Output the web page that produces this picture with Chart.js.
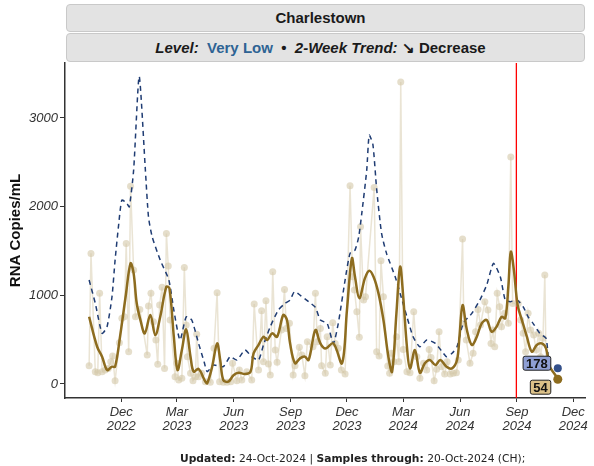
<!DOCTYPE html>
<html>
<head>
<meta charset="utf-8">
<script src="https://cdn.jsdelivr.net/npm/chart.js@4.4.1/dist/chart.umd.min.js"></script>
<style>
  html, body { margin: 0; padding: 0; background: #fff; }
  body { width: 594px; height: 466px; position: relative; overflow: hidden; font-family: 'Liberation Sans', Arial, sans-serif; }
  #plot { position: absolute; left: 0; top: 0; }
  .strip { position: absolute; left: 66px; width: 519px; background: #e3e3e3; border: 1px solid #c9c9c9; border-radius: 4px; box-sizing: border-box; text-align: center; font-weight: bold; font-size: 15px; color: #1a1a1a; padding-right: 10px; }
  #strip1 { top: 4px; height: 28px; line-height: 26px; }
  #strip2 { top: 33px; height: 29px; line-height: 27px; }
  #strip2 .lvl { color: #2e6394; }
  #footer { position: absolute; left: 180px; top: 452px; white-space: nowrap; font-family: 'DejaVu Sans', sans-serif; font-size: 10.7px; color: #222; }
</style>
</head>
<body>
<canvas id="plot" width="594" height="466"></canvas>
<div class="strip" id="strip1">Charlestown</div>
<div class="strip" id="strip2"><i>Level:</i>&nbsp; <span class="lvl">Very Low</span> &nbsp;&bull;&nbsp; <i>2-Week Trend:</i> &#8600; Decrease</div>
<div id="footer"><b>Updated:</b> 24-Oct-2024 | <b>Samples through:</b> 20-Oct-2024 (CH);</div>
<script>
// raw samples (RNA copies/mL)
const sampleDates = [
  '2022-10-10','2022-10-13','2022-10-20','2022-10-24','2022-10-27','2022-10-31','2022-11-05','2022-11-10','2022-11-14','2022-11-17',
  '2022-11-21','2022-11-28','2022-12-02','2022-12-06','2022-12-09','2022-12-13','2022-12-16','2022-12-21','2022-12-24','2022-12-31',
  '2023-01-12','2023-01-14','2023-01-18','2023-01-22','2023-01-26','2023-01-29','2023-02-01','2023-02-05','2023-02-09','2023-02-12',
  '2023-02-15','2023-02-18','2023-02-26','2023-03-01','2023-03-04','2023-03-09','2023-03-13','2023-03-16','2023-03-18','2023-03-23',
  '2023-03-27','2023-03-31','2023-04-02','2023-04-05','2023-04-10','2023-04-16','2023-04-24','2023-04-30','2023-05-05','2023-05-09',
  '2023-05-15','2023-05-21','2023-05-27','2023-05-30','2023-06-06','2023-06-10','2023-06-14','2023-06-22','2023-06-30','2023-07-04',
  '2023-07-11','2023-07-16','2023-07-19','2023-07-23','2023-07-27','2023-07-30','2023-08-03','2023-08-07','2023-08-10','2023-08-17',
  '2023-08-22','2023-08-25','2023-08-30','2023-09-05','2023-09-08','2023-09-15','2023-09-19','2023-09-24','2023-09-28','2023-10-07',
  '2023-10-11','2023-10-14','2023-10-19','2023-10-21','2023-10-27','2023-10-30','2023-11-04','2023-11-08','2023-11-12','2023-11-17',
  '2023-11-22','2023-11-28','2023-12-06','2023-12-10','2023-12-13','2023-12-17','2023-12-21','2023-12-23','2023-12-28','2023-12-31',
  '2024-01-14','2024-01-18','2024-01-22','2024-01-25','2024-01-29','2024-02-05','2024-02-08','2024-02-11','2024-02-15','2024-02-19',
  '2024-02-23','2024-02-26','2024-03-01','2024-03-07','2024-03-12','2024-03-18','2024-03-23','2024-03-28','2024-04-03','2024-04-08',
  '2024-04-12','2024-04-15','2024-04-20','2024-04-24','2024-04-28','2024-05-02','2024-05-07','2024-05-11','2024-05-16','2024-05-21',
  '2024-05-26','2024-05-29','2024-06-05','2024-06-07','2024-06-11','2024-06-17','2024-06-22','2024-06-26','2024-06-30','2024-07-04',
  '2024-07-11','2024-07-16','2024-07-21','2024-07-24','2024-07-27','2024-07-31','2024-08-04','2024-08-07','2024-08-12','2024-08-18',
  '2024-08-22','2024-08-25','2024-09-03','2024-09-07','2024-09-11','2024-09-15','2024-09-19','2024-09-23','2024-09-28','2024-10-02',
  '2024-10-06','2024-10-09','2024-10-13','2024-10-16','2024-10-18','2024-10-20'
];
const sampleValues = [
  206, 1473, 139, 127, 1022, 139, 158, 176, 251, 315,
  37, 466, 740, 758, 1585, 364, 2231, 1285, 758, 841,
  327, 879, 1022, 702, 496, 222, 890, 1090, 176, 1698,
  1330, 721, 83, 233, 45, 64, 1315, 665, 308, 120,
  37, 83, 560, 83, 120, 26, 19, 402, 1029, 26,
  19, 19, 26, 233, 37, 158, 45, 139, 45, 902,
  158, 826, 251, 939, 225, 101, 1266, 383, 244, 608,
  1067, 627, 684, 101, 206, 413, 327, 94, 477, 420,
  1022, 477, 627, 206, 120, 533, 214, 691, 458, 402,
  158, 113, 2235, 1209, 1059, 815, 526, 1773, 947, 984,
  2216, 364, 315, 1390, 984, 203, 120, 346, 251, 533,
  251, 3407, 390, 139, 127, 815, 308, 64, 233, 158,
  390, 300, 37, 165, 590, 195, 113, 251, 113, 120,
  127, 270, 1634, 684, 496, 233, 346, 590, 841, 665,
  928, 834, 458, 608, 420, 1022, 871, 646, 797, 684,
  2561, 909, 909, 721, 571, 364, 797, 608, 552, 383,
  571, 308, 515, 1228, 270, 195
];

// smoothed trend (solid gold)
const trendDates = [
  '2022-10-10','2022-10-23','2022-10-31','2022-11-08','2022-11-16','2022-11-21','2022-11-29','2022-12-08','2022-12-16','2022-12-21',
  '2022-12-26','2023-01-01','2023-01-08','2023-01-17','2023-01-25','2023-02-02','2023-02-12','2023-02-17','2023-02-24','2023-03-02',
  '2023-03-09','2023-03-16','2023-03-23','2023-03-28','2023-04-05','2023-04-16','2023-04-19','2023-04-27','2023-05-05','2023-05-10',
  '2023-05-15','2023-05-23','2023-06-01','2023-06-09','2023-06-19','2023-06-28','2023-07-03','2023-07-11','2023-07-19','2023-07-25',
  '2023-08-02','2023-08-10','2023-08-20','2023-08-26','2023-08-31','2023-09-08','2023-09-16','2023-09-24','2023-09-30','2023-10-11',
  '2023-10-19','2023-10-27','2023-11-09','2023-11-23','2023-12-01','2023-12-09','2023-12-14','2023-12-21','2023-12-30','2024-01-06',
  '2024-01-13','2024-01-21','2024-01-29','2024-02-06','2024-02-12','2024-02-19','2024-02-25','2024-03-01','2024-03-07','2024-03-12',
  '2024-03-20','2024-03-28','2024-04-05','2024-04-13','2024-04-22','2024-04-30','2024-05-10','2024-05-19','2024-05-27','2024-05-31',
  '2024-06-05','2024-06-12','2024-06-20','2024-06-28','2024-07-06','2024-07-14','2024-07-22','2024-07-30','2024-08-07','2024-08-13',
  '2024-08-18','2024-08-22','2024-08-27','2024-09-02','2024-09-09','2024-09-17','2024-09-25','2024-10-03','2024-10-11','2024-10-18',
  '2024-10-24','2024-11-02','2024-11-06'
];
const trendValues = [
  758, 420, 308, 158, 195, 195, 533, 984, 1360, 1247,
  910, 721, 571, 778, 552, 758, 1097, 1078, 533, 158,
  383, 616, 308, 139, 170, 26, 8, 195, 458, 270,
  45, 26, 101, 127, 113, 139, 346, 440, 533, 496,
  571, 533, 778, 721, 458, 233, 289, 308, 270, 608,
  458, 400, 458, 233, 834, 1417, 1209, 966, 1191, 1277,
  1209, 1022, 721, 308, 139, 797, 1322, 984, 420, 176,
  383, 127, 233, 270, 214, 270, 195, 176, 270, 533,
  890, 608, 440, 533, 684, 721, 590, 646, 758, 740,
  1097, 1491, 1285, 890, 721, 533, 364, 440, 458, 402,
  195, 101, 54
];

// comparison curve (dashed navy)
const compareDates = [
  '2022-10-10','2022-10-20','2022-10-31','2022-11-08','2022-11-16','2022-11-21','2022-11-27','2022-12-02','2022-12-10','2022-12-14',
  '2022-12-21','2022-12-30','2023-01-09','2023-01-14','2023-01-20','2023-02-02','2023-02-16','2023-02-24','2023-03-06','2023-03-16',
  '2023-03-25','2023-04-05','2023-04-14','2023-04-19','2023-04-29','2023-05-15','2023-05-26','2023-06-06','2023-06-19','2023-06-30',
  '2023-07-11','2023-07-19','2023-07-30','2023-08-12','2023-08-23','2023-08-31','2023-09-07','2023-09-16','2023-09-30','2023-10-11',
  '2023-10-19','2023-10-30','2023-11-09','2023-11-17','2023-11-28','2023-12-06','2023-12-14','2023-12-20','2023-12-25','2024-01-02',
  '2024-01-06','2024-01-12','2024-01-18','2024-01-26','2024-02-03','2024-02-17','2024-02-25','2024-03-07','2024-03-17','2024-03-28',
  '2024-04-08','2024-04-22','2024-05-05','2024-05-10','2024-05-19','2024-05-27','2024-06-06','2024-06-20','2024-07-03','2024-07-14',
  '2024-07-25','2024-08-05','2024-08-13','2024-08-21','2024-09-01','2024-09-11','2024-09-19','2024-09-27','2024-10-08','2024-10-18',
  '2024-10-22'
];
const compareValues = [
  1172, 909, 571, 646, 984, 1397, 1811, 2074, 2036, 1998,
  2412, 3470, 2412, 1886, 1660, 1397, 1172, 834, 496, 758,
  721, 458, 250, 139, 214, 195, 308, 270, 383, 308,
  270, 440, 646, 834, 909, 947, 1040, 1003, 928, 864,
  721, 684, 458, 684, 1172, 1473, 1510, 1660, 1924, 2412,
  2806, 2700, 2200, 1698, 1473, 1209, 1022, 758, 533, 420,
  496, 458, 346, 308, 346, 420, 684, 797, 947, 1116,
  1360, 1209, 947, 928, 947, 871, 758, 684, 571, 515,
  270
];

// latest values shown as tagged dots
const latestDate = '2024-11-06';
const latestCompare = 178;
const latestTrend = 54;
const markerDate = '2024-08-31';

const tickDates = ['2022-12-01','2023-03-01','2023-06-01','2023-09-01','2023-12-01','2024-03-01','2024-06-01','2024-09-01','2024-12-01'];
const tickLabels = [['Dec','2022'],['Mar','2023'],['Jun','2023'],['Sep','2023'],['Dec','2023'],['Mar','2024'],['Jun','2024'],['Sep','2024'],['Dec','2024']];
const yTicks = [0, 1000, 2000, 3000];

const FONT = "'Liberation Sans', Arial, sans-serif";
const toDay = s => Date.UTC(+s.slice(0, 4), +s.slice(5, 7) - 1, +s.slice(8, 10)) / 86400000;
const pts = (dates, vals) => dates.map((d, i) => ({ x: toDay(d), y: vals[i] }));

function tag(ctx, text, xRight, yc, fill) {
    ctx.font = 'bold 13px ' + FONT;
    const w = ctx.measureText(text).width + 6;
    const h = 14;
    const x0 = xRight - w;
    const y0 = yc - h / 2;
    ctx.beginPath();
    ctx.roundRect(x0, y0, w, h, 2);
    ctx.fillStyle = fill;
    ctx.fill();
    ctx.lineWidth = 1;
    ctx.strokeStyle = '#222';
    ctx.stroke();
    ctx.fillStyle = '#111';
    ctx.textAlign = 'center';
    ctx.textBaseline = 'middle';
    ctx.fillText(text, x0 + w / 2, yc + 1);
}

const overlay = {
    id: 'overlay',
    beforeDatasetsDraw(chart) {
        const { ctx, chartArea, scales } = chart;
        const rx = scales.x.getPixelForValue(toDay(markerDate));
        ctx.save();
        ctx.strokeStyle = '#ff0000';
        ctx.lineWidth = 1.3;
        ctx.beginPath();
        ctx.moveTo(rx, chartArea.top);
        ctx.lineTo(rx, chartArea.bottom);
        ctx.stroke();
        ctx.restore();
    },
    afterDatasetsDraw(chart) {
        const { ctx, scales } = chart;
        const px = scales.x.getPixelForValue(toDay(latestDate));
        ctx.save();
        tag(ctx, String(latestCompare), px - 7, scales.y.getPixelForValue(latestCompare) - 5, '#8f9fd4');
        tag(ctx, String(latestTrend), px - 7, scales.y.getPixelForValue(latestTrend) + 8, '#dcc188');
        ctx.restore();
    },
};

new Chart(document.getElementById('plot'), {
    type: 'line',
    data: {
        datasets: [
            {
                data: pts([latestDate], [latestCompare]),
                showLine: false,
                pointRadius: 4,
                pointBackgroundColor: '#34508a',
                pointBorderWidth: 0,
                order: 1,
            },
            {
                data: pts([latestDate], [latestTrend]),
                showLine: false,
                pointRadius: 4.5,
                pointBackgroundColor: '#8d6c1f',
                pointBorderWidth: 0,
                order: 1,
            },
            {
                data: pts(trendDates, trendValues),
                borderColor: '#8d6c1f',
                borderWidth: 2.5,
                pointRadius: 0,
                tension: 0.35,
                order: 2,
            },
            {
                data: pts(compareDates, compareValues),
                borderColor: '#1f3c73',
                borderWidth: 1.5,
                borderDash: [5, 4],
                pointRadius: 0,
                tension: 0.2,
                order: 3,
            },
            {
                data: pts(sampleDates, sampleValues),
                borderColor: 'rgba(214,201,170,0.5)',
                borderWidth: 1.5,
                pointRadius: 3.5,
                pointBackgroundColor: 'rgba(212,200,168,0.6)',
                pointBorderWidth: 0,
                tension: 0,
                order: 4,
            },
        ],
    },
    options: {
        responsive: false,
        animation: false,
        devicePixelRatio: 1,
        layout: { padding: { left: 0, top: 63, right: 9, bottom: 0 } },
        plugins: { legend: { display: false }, tooltip: { enabled: false } },
        scales: {
            x: {
                type: 'linear',
                min: toDay('2022-09-01'),
                max: toDay('2024-12-20'),
                afterBuildTicks: s => { s.ticks = tickDates.map(d => ({ value: toDay(d) })); },
                afterFit: s => { s.height = 68; },
                ticks: {
                    autoSkip: false,
                    maxRotation: 0,
                    minRotation: 0,
                    padding: 3,
                    color: '#333',
                    font: { family: FONT, size: 13, style: 'italic', lineHeight: 1.1 },
                    callback: (v, i) => tickLabels[i],
                },
                grid: { drawOnChartArea: false, drawTicks: true, tickLength: 4, color: '#333' },
                border: { color: '#333', width: 1.5 },
            },
            y: {
                min: -158,
                max: 3620,
                afterBuildTicks: s => { s.ticks = yTicks.map(v => ({ value: v })); },
                afterFit: s => { s.width = 65; },
                ticks: {
                    padding: 2,
                    color: '#333',
                    font: { family: FONT, size: 13, style: 'italic' },
                    callback: v => String(v),
                },
                grid: { drawOnChartArea: false, drawTicks: true, tickLength: 5, color: '#333' },
                border: { color: '#333', width: 1.5 },
                title: {
                    display: true,
                    text: 'RNA Copies/mL',
                    color: '#111',
                    font: { family: FONT, size: 15, weight: 'bold' },
                    padding: { top: 7, bottom: 0 },
                },
            },
        },
    },
    plugins: [overlay],
});
</script>
</body>
</html>
